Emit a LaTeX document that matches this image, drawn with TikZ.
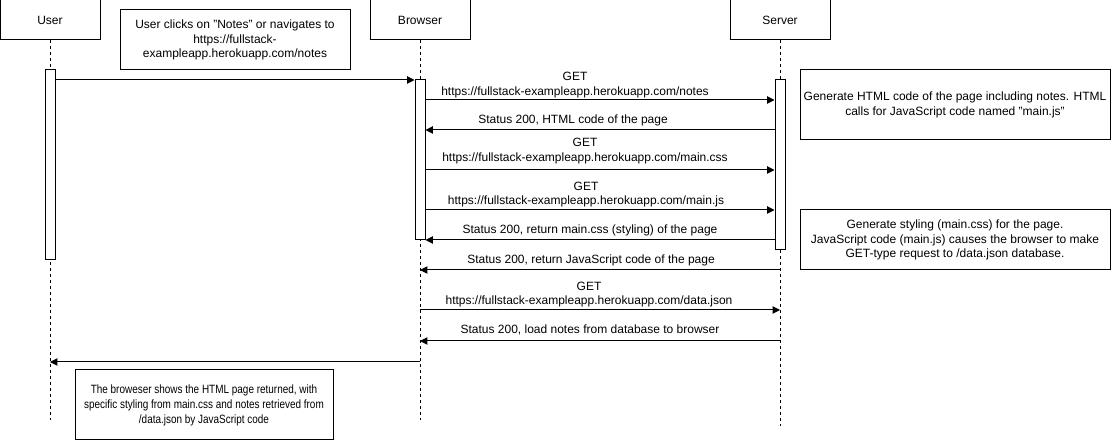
\documentclass[tikz,border=0pt]{standalone}
\usepackage{fontspec}
\setmainfont{Liberation Sans}
\newfontfamily\narrowsans[FakeStretch=0.83]{Liberation Sans}
\usetikzlibrary{positioning,arrows.meta}
\tikzset{actor/.style={draw,minimum width=75pt,minimum height=30pt,inner sep=0pt},
         note/.style={draw,align=center,inner sep=0pt},
         act/.style={draw,fill=white,minimum width=7.5pt,inner sep=0pt},
         life/.style={dash pattern=on 2.25pt off 2.25pt},
         lbl/.style={align=center,inner sep=0pt}
}
\tikzstyle{msg} = [-{Triangle[length=5.5pt,width=5.5pt]}]

\begin{document}
\begin{tikzpicture}[x=0.75pt,y=-0.75pt,line width=0.75pt,font=\fontsize{9}{10.9}\selectfont]
\useasboundingbox (0,0) rectangle (1111,441);

\node[actor] (user) at (50,20) {User};
\node[actor] (browser) at (420,20) {Browser};
\node[actor] (server) at (780,20) {Server};
\coordinate (userend) at (50,420);
\coordinate (browserend) at (420,420);
\coordinate (serverend) at (780,426);
\draw[life] (user) -- (userend);
\draw[life] (browser) -- (browserend);
\draw[life] (server) -- (serverend);

\node[act,minimum height=142.5pt] (uact) at (50,165) {};
\node[act,minimum height=120pt] (bact) at (420,160) {};
\node[act,minimum height=127.5pt] (sact) at (780,165) {};

\node[note,minimum width=172.5pt,minimum height=45pt] (clicknote) at (235,40) {User clicks on "Notes" or navigates to\\https://fullstack-\\exampleapp.herokuapp.com/notes};
\node[note,minimum width=232.5pt,minimum height=52.5pt] (htmlnote) at (955,105) {Generate HTML code of the page including notes. HTML\\calls for JavaScript code named "main.js"};
\node[note,minimum width=232.5pt,minimum height=45pt] (stylenote) at (955,240) {Generate styling (main.css) for the page.\\JavaScript code (main.js) causes the browser to make\\GET-type request to /data.json database.};
\node[note,minimum width=193.5pt,minimum height=52.5pt,font=\narrowsans\fontsize{9}{11.2}\selectfont] (shownote) at (204,405) {The broweser shows the HTML page returned, with\\specific styling from main.css and notes retrieved from\\/data.json by JavaScript code};

\coordinate (m1) at (0,80);
\coordinate (m2) at (0,100);
\coordinate (m3) at (0,130);
\coordinate (m4) at (0,170);
\coordinate (m5) at (0,210);
\coordinate (m6) at (0,240);
\coordinate (m7) at (0,270);
\coordinate (m8) at (0,310);
\coordinate (m9) at (0,341);
\coordinate (m10) at (0,362);

\node[lbl] (getnotes) at (575,85) {GET\\https://fullstack-exampleapp.herokuapp.com/notes};
\node[lbl] (htmlback) at (573,120) {Status 200, HTML code of the page};
\node[lbl] (getcss) at (585,151) {GET\\https://fullstack-exampleapp.herokuapp.com/main.css};
\node[lbl] (getjs) at (586,194.5) {GET\\https://fullstack-exampleapp.herokuapp.com/main.js};
\node[lbl] (cssback) at (590,230) {Status 200, return main.css (styling) of the page};
\node[lbl] (jsback) at (591,260) {Status 200, return JavaScript code of the page};
\node[lbl] (getjson) at (589,294.5) {GET\\https://fullstack-exampleapp.herokuapp.com/data.json};
\node[lbl] (jsonback) at (590,330) {Status 200, load notes from database to browser};

\draw[msg] (uact.east |- m1) -- (bact.west |- m1);
\draw[msg] (bact.east |- m2) -- (sact.west |- m2);
\draw[msg] (sact.west |- m3) -- (bact.east |- m3);
\draw[msg] (bact.east |- m4) -- (sact.west |- m4);
\draw[msg] (bact.east |- m5) -- (sact.west |- m5);
\draw[msg] (sact.west |- m6) -- (bact.east |- m6);
\draw[msg] (server |- m7) -- (browser |- m7);
\draw[msg] (browser |- m8) -- (server |- m8);
\draw[msg] (server |- m9) -- (browser |- m9);
\draw[msg] (browser |- m10) -- (user |- m10);

\end{tikzpicture}
\end{document}
